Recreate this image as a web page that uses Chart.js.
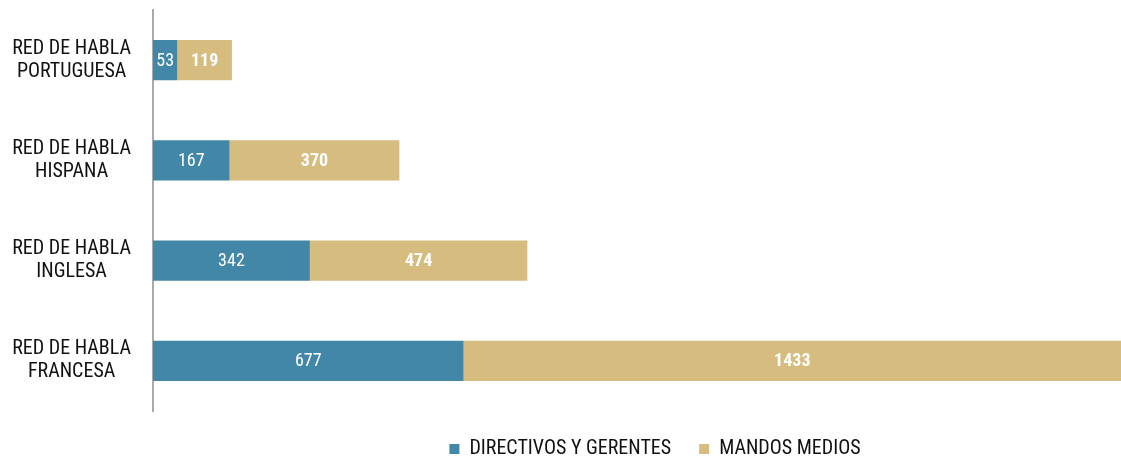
<!DOCTYPE html>
<html>
<head>
<meta charset="utf-8">
<script src="https://cdn.jsdelivr.net/npm/chart.js@4/dist/chart.umd.min.js"></script>
<style>
  html, body { margin: 0; padding: 0; background: #fff; }
  #wrap { width: 1121px; height: 456px; position: relative; }
</style>
</head>
<body>
<div id="wrap"><canvas id="chart"></canvas></div>
<script>
const FONT = '"Liberation Sans Narrow", "Roboto Condensed", "DejaVu Sans Condensed", sans-serif';

const categories = [
  ["RED DE HABLA", "PORTUGUESA"],
  ["RED DE HABLA", "HISPANA"],
  ["RED DE HABLA", "INGLESA"],
  ["RED DE HABLA", "FRANCESA"],
];
const directivos = [53, 167, 342, 677];
const mandos = [119, 370, 474, 1433];

const BLUE = "#4287a7";
const TAN = "#d6bd7f";

// draws the value inside each bar segment
const barLabels = {
  id: "barLabels",
  afterDatasetsDraw(chart) {
    const ctx = chart.ctx;
    ctx.save();
    ctx.textAlign = "center";
    ctx.textBaseline = "middle";
    ctx.fillStyle = "#fff";
    chart.data.datasets.forEach((ds, i) => {
      const meta = chart.getDatasetMeta(i);
      ctx.font = (i === 1 ? "bold " : "") + "18px " + FONT;
      meta.data.forEach((bar, j) => {
        const x = (bar.x + bar.base) / 2;
        ctx.fillText(String(ds.data[j]), x, bar.y + 1);
      });
    });
    ctx.restore();
  },
};

// fixed legend height so the plot ends where the reference does,
// and nudge it a little to the right
const legendBox = {
  id: "legendBox",
  beforeInit(chart) {
    const originalFit = chart.legend.fit;
    chart.legend.fit = function fit() {
      originalFit.call(this);
      this.height = 45;
    };
  },
  afterLayout(chart) {
    chart.legend.left += 18;
    chart.legend.right += 18;
  },
};

const data = {
  labels: categories,
  datasets: [
    {
      label: "DIRECTIVOS Y GERENTES",
      data: directivos,
      backgroundColor: BLUE,
      barPercentage: 0.8,
      categoryPercentage: 0.5,
    },
    {
      label: "MANDOS MEDIOS",
      data: mandos,
      backgroundColor: TAN,
      barPercentage: 0.8,
      categoryPercentage: 0.5,
    },
  ],
};

const config = {
  type: "bar",
  data: data,
  options: {
    indexAxis: "y",
    responsive: true,
    maintainAspectRatio: false,
    animation: false,
    layout: {
      padding: { left: 12, top: 10, right: 0, bottom: 0 },
    },
    scales: {
      x: {
        stacked: true,
        min: 0,
        max: 2110,
        display: false,
      },
      y: {
        stacked: true,
        grid: { display: false, drawTicks: false },
        border: { display: true, color: "#aaaaaa", width: 2 },
        ticks: {
          color: "#111",
          padding: 22,
          crossAlign: "center",
          font: { family: FONT, size: 20, lineHeight: 1.15 },
        },
        afterFit(scale) {
          scale.width = 141;
          scale.paddingTop = 0;
          scale.paddingBottom = 0;
        },
      },
    },
    plugins: {
      legend: {
        position: "bottom",
        fullSize: false,
        labels: {
          color: "#111",
          boxWidth: 10,
          boxHeight: 10,
          padding: 28,
          font: { family: FONT, size: 20 },
        },
      },
      tooltip: { enabled: false },
    },
  },
  plugins: [barLabels, legendBox],
};

new Chart(document.getElementById("chart"), config);
</script>
</body>
</html>
